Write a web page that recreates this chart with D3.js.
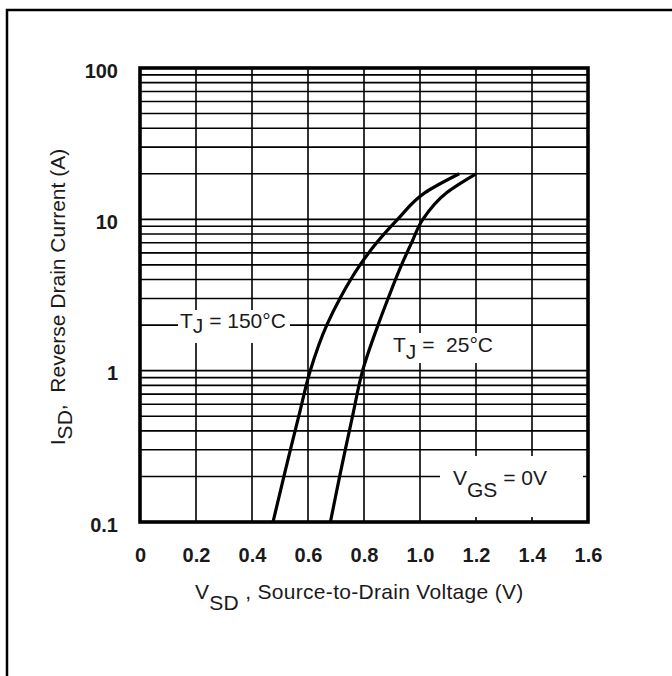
<!DOCTYPE html>
<html>
<head>
<meta charset="utf-8">
<script src="https://cdn.jsdelivr.net/npm/d3@7"></script>
<style>
  html, body { margin: 0; padding: 0; background: #fff; }
  svg { display: block; }
  text { font-family: "Liberation Sans", Arial, Helvetica, sans-serif; fill: #1a1a1a; white-space: pre; }
</style>
</head>
<body>
<svg id="chart" width="672" height="676"></svg>
<script>
// ---- data ----
const currentA = [0.1, 0.2, 0.3, 0.5, 1, 2, 3, 5, 7, 10, 15, 20];
const vsd150 = [0.475, 0.514, 0.537, 0.567, 0.608, 0.667, 0.714, 0.786, 0.845, 0.92, 1.018, 1.14];
const vsd25  = [0.68, 0.713, 0.733, 0.759, 0.795, 0.85, 0.886, 0.934, 0.97, 1.01, 1.095, 1.2];
const xTicks = [0, 0.2, 0.4, 0.6, 0.8, 1.0, 1.2, 1.4, 1.6];
const xTickLabels = ["0", "0.2", "0.4", "0.6", "0.8", "1.0", "1.2", "1.4", "1.6"];
const yTicks = [0.1, 1, 10, 100];
const yTickLabels = ["0.1", "1", "10", "100"];
const yMinor = [];
[0.1, 1, 10].forEach(d => { for (let k = 2; k <= 9; k++) yMinor.push(+(d * k).toFixed(3)); });

// ---- layout ----
const svg = d3.select("#chart");
const L = 140, R = 588, T = 68, B = 522;
const x = d3.scaleLinear().domain([0, 1.6]).range([L, R]);
const y = d3.scaleLog().domain([0.1, 100]).range([B, T]);

// outer frame (extends beyond the picture on right/bottom)
svg.append("rect").attr("x", 7).attr("y", 10).attr("width", 720).attr("height", 720)
  .attr("fill", "none").attr("stroke", "#000").attr("stroke-width", 2.5);

// grid
const grid = svg.append("g").attr("stroke", "#000").attr("stroke-width", 1.6);
grid.selectAll("line.v").data(xTicks.slice(1, -1)).join("line")
  .attr("x1", d => x(d)).attr("x2", d => x(d)).attr("y1", T).attr("y2", B);
grid.selectAll("line.h").data(yMinor.concat([1, 10])).join("line")
  .attr("x1", L).attr("x2", R).attr("y1", d => y(d)).attr("y2", d => y(d));

// curves (ordered top to bottom on screen for monotone-in-y interpolation)
const line = d3.line().curve(d3.curveMonotoneY)
  .x(d => x(d[0])).y(d => y(d[1]));
[vsd150, vsd25].forEach(vs => {
  const pts = vs.map((v, i) => [v, currentA[i]]).reverse();
  svg.append("path").datum(pts)
    .attr("d", line).attr("fill", "none").attr("stroke", "#000").attr("stroke-width", 3.2)
    .attr("stroke-linejoin", "round");
});

// labels with white backgrounds
function label(tx, ty, main, sub, rest, shift, box) {
  const g = svg.append("g");
  const bg = g.append("rect").attr("fill", "#fff");
  const t = g.append("text").attr("x", tx).attr("y", ty).style("font-size", "21px");
  t.append("tspan").text(main);
  t.append("tspan").attr("dy", shift).text(sub);
  t.append("tspan").attr("dy", -shift).text(rest);
  if (box) {
    bg.attr("x", box[0]).attr("y", box[1]).attr("width", box[2]).attr("height", box[3]);
  } else {
    const bb = t.node().getBBox();
    bg.attr("x", bb.x - 2).attr("y", bb.y - 1).attr("width", bb.width + 4).attr("height", bb.height + 3);
  }
  return g;
}
label(180, 328, "T", "J", " = 150°C", 5, [178, 310, 112, 33]);
label(393, 352, "T", "J", " =  25°C", 7, [388, 333, 118, 30]);
label(453, 485, "V", "GS", " = 0V", 12, [440, 456, 143, 61]);

// plot border
svg.append("rect").attr("x", L).attr("y", T).attr("width", R - L).attr("height", B - T)
  .attr("fill", "none").attr("stroke", "#000").attr("stroke-width", 3.6);

// axes (labels only)
const xAxis = d3.axisBottom(x).tickValues(xTicks).tickSize(0).tickPadding(0)
  .tickFormat((d, i) => xTickLabels[i]);
const gx = svg.append("g").attr("transform", `translate(0,555)`).call(xAxis);
gx.select(".domain").remove();
gx.selectAll("text").attr("dy", "0.35em").attr("y", 0)
  .style("font-size", "20px").style("font-family", "Liberation Sans, Arial, sans-serif")
  .style("font-weight", "bold").attr("fill", "#1a1a1a");

const yAxis = d3.axisLeft(y).tickValues(yTicks).tickSize(0).tickPadding(0)
  .tickFormat((d, i) => yTickLabels[i]);
const gy = svg.append("g").attr("transform", `translate(118,2)`).call(yAxis);
gy.select(".domain").remove();
gy.selectAll("text").attr("dy", "0.35em")
  .style("font-size", "20px").style("font-family", "Liberation Sans, Arial, sans-serif")
  .style("font-weight", "bold").attr("fill", "#1a1a1a");

// axis titles
const xt = svg.append("text").attr("x", 195).attr("y", 599).style("font-size", "21px")
  .style("letter-spacing", "0.3px");
xt.append("tspan").text("V");
xt.append("tspan").attr("dy", 11).text("SD");
xt.append("tspan").attr("dy", -11).text(" , Source-to-Drain Voltage (V)");

const yt = svg.append("text").attr("transform", "translate(65,297) rotate(-90)")
  .attr("text-anchor", "middle").style("font-size", "21px");
yt.append("tspan").text("I");
yt.append("tspan").attr("dy", 7).text("SD");
yt.append("tspan").attr("dy", -7).text(",  Reverse Drain Current (A)");
</script>
</body>
</html>
